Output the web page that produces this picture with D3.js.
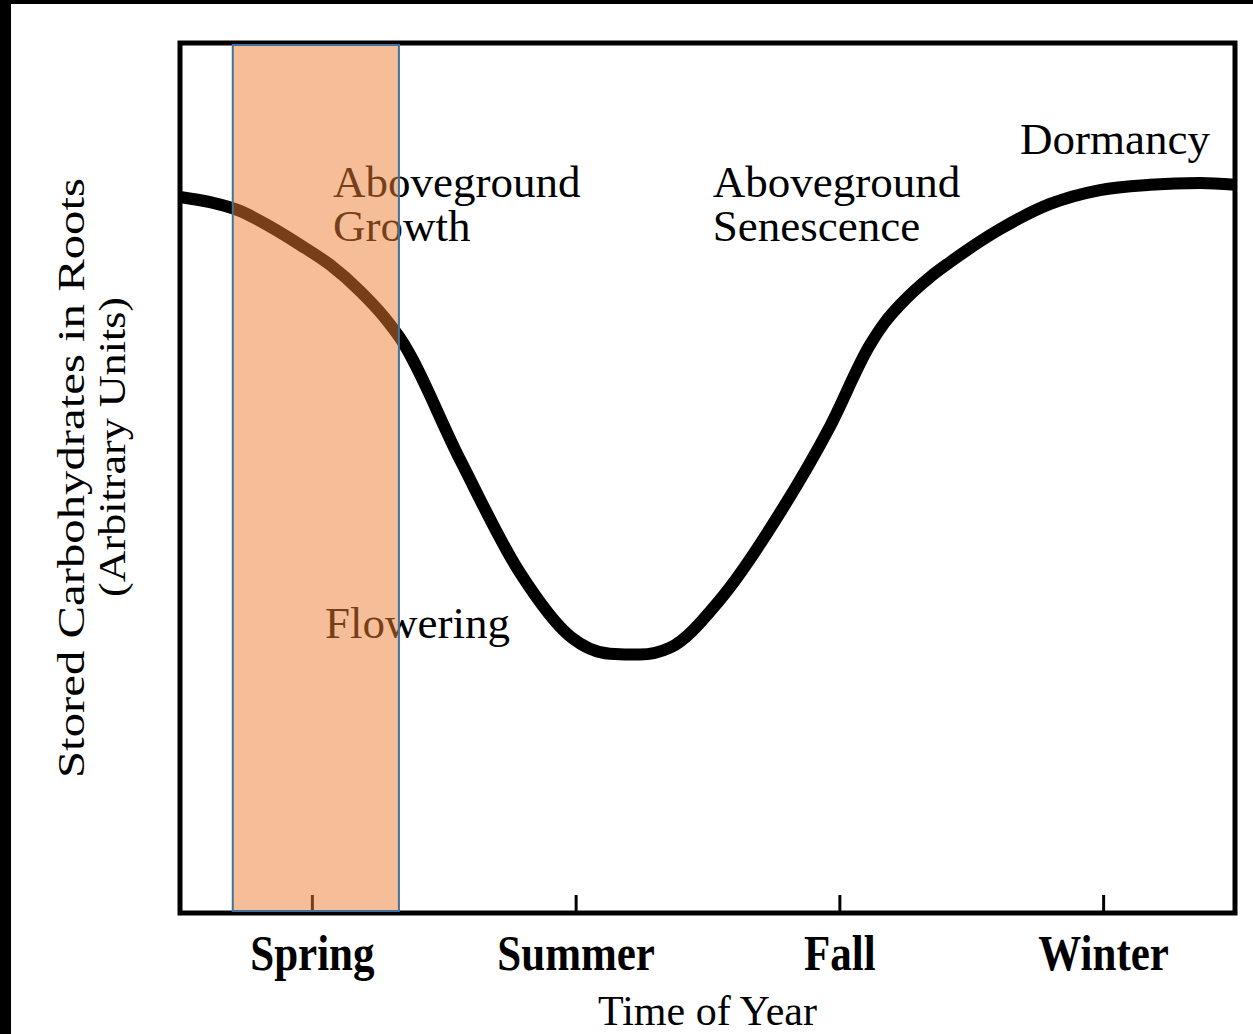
<!DOCTYPE html>
<html>
<head>
<meta charset="utf-8">
<script src="https://cdn.jsdelivr.net/npm/d3@7"></script>
<style>
  html, body { margin: 0; padding: 0; background: #fff; }
  svg { display: block; }
  text { font-family: "Liberation Serif", "Times New Roman", serif; }
</style>
</head>
<body>
<script>
// ---- data ----
const seasons = ["Spring", "Summer", "Fall", "Winter"];
const seasonIndex = [0, 1, 2, 3];
// time of year expressed in season units (Spring = 0 ... Winter = 3)
const timeOfYear = [-0.5, -0.386, -0.273, -0.159, -0.045, 0.069, 0.182, 0.277, 0.334, 0.562,
  0.789, 0.979, 1.13, 1.244, 1.358, 1.547, 1.775, 1.964, 2.116, 2.173, 2.23, 2.344, 2.419,
  2.609, 2.799, 2.988, 3.178, 3.367, 3.5];
// stored carbohydrates in roots (arbitrary units, 0-100)
const storedCarbs = [82.3, 81.7, 80.7, 78.9, 76.8, 74.5, 71.5, 68.4, 66.1, 52.1,
  39.1, 31.8, 29.8, 29.7, 30.5, 36.0, 46.0, 55.9, 65.3, 67.9, 69.9, 73.1, 74.8,
  78.6, 81.5, 83.1, 83.7, 83.9, 83.7];
const floweringPeriod = [-0.3, 0.33];
const annotations = [
  { lines: ["Aboveground", "Growth"], t: 0.08, v: 82.3 },
  { lines: ["Aboveground", "Senescence"], t: 1.52, v: 82.3 },
  { lines: ["Dormancy"], t: 2.685, v: 87.2 },
  { lines: ["Flowering"], t: 0.05, v: 31.6 }
];
const xTitle = "Time of Year";
const yTitle = ["Stored Carbohydrates in Roots", "(Arbitrary Units)"];

// ---- layout ----
const W = 1253, H = 1034;
const m = { left: 180, right: 18, top: 43, bottom: 121 };
const pw = W - m.left - m.right, ph = H - m.top - m.bottom;

const svg = d3.select("body").append("svg").attr("width", W).attr("height", H);
svg.append("rect").attr("width", W).attr("height", H).attr("fill", "#fff");
// black scan border
svg.append("rect").attr("x", 0).attr("y", 0).attr("width", W).attr("height", 4).attr("fill", "#000");
svg.append("rect").attr("x", 0).attr("y", 0).attr("width", 11).attr("height", H).attr("fill", "#000");

const x = d3.scaleLinear().domain([-0.5, 3.5]).range([m.left, m.left + pw]);
const y = d3.scaleLinear().domain([0, 100]).range([m.top + ph, m.top]);

// frame
svg.append("rect")
  .attr("x", x(-0.5)).attr("y", y(100))
  .attr("width", x(3.5) - x(-0.5)).attr("height", y(0) - y(100))
  .attr("fill", "none").attr("stroke", "#000").attr("stroke-width", 5);

// x axis (ticks pointing up, season labels)
const xAxis = d3.axisBottom(x).tickValues(seasonIndex).tickSize(-18).tickFormat(i => seasons[i]);
const gx = svg.append("g").attr("transform", `translate(0,${y(0)})`).call(xAxis);
gx.select(".domain").remove();
gx.selectAll(".tick line").attr("stroke", "#000").attr("stroke-width", 3);
gx.selectAll(".tick text")
  .attr("y", 0).attr("dy", 0)
  .attr("transform", "translate(0,57) scale(1,1.2)")
  .attr("fill", "#000")
  .attr("font-family", "'Liberation Serif', 'Times New Roman', serif")
  .attr("font-size", 43).attr("font-weight", "bold");

// x title
svg.append("text")
  .attr("x", (x(-0.5) + x(3.5)) / 2).attr("y", 1025)
  .attr("text-anchor", "middle").attr("font-size", 42)
  .text(xTitle);

// y title (two lines)
svg.append("text")
  .attr("transform", `translate(84,${(y(0) + y(100)) / 2}) rotate(-90)`)
  .attr("text-anchor", "middle").attr("font-size", 38)
  .attr("textLength", 600).attr("lengthAdjust", "spacingAndGlyphs")
  .text(yTitle[0]);
svg.append("text")
  .attr("transform", `translate(125,${(y(0) + y(100)) / 2 - 31}) rotate(-90)`)
  .attr("text-anchor", "middle").attr("font-size", 38)
  .attr("textLength", 300).attr("lengthAdjust", "spacingAndGlyphs")
  .text(yTitle[1]);

// curve
const pts = timeOfYear.map((t, i) => [t, storedCarbs[i]]);
const line = d3.line().x(d => x(d[0])).y(d => y(d[1])).curve(d3.curveMonotoneX);
svg.append("path").datum(pts)
  .attr("d", line).attr("fill", "none")
  .attr("stroke", "#000").attr("stroke-width", 12)
  .attr("stroke-linecap", "butt").attr("stroke-linejoin", "round");

// annotations
annotations.forEach(a => {
  const t = svg.append("text").attr("x", x(a.t)).attr("y", y(a.v)).attr("font-size", 45).attr("fill", "#000");
  a.lines.forEach((s, i) => {
    t.append("tspan").attr("x", x(a.t)).attr("dy", i === 0 ? 0 : 44).text(s);
  });
});

// flowering overlay (semi-transparent, on top)
svg.append("rect")
  .attr("x", x(floweringPeriod[0])).attr("y", y(100) + 2)
  .attr("width", x(floweringPeriod[1]) - x(floweringPeriod[0]))
  .attr("height", y(0) - y(100) - 4)
  .attr("fill", "rgb(237,125,49)").attr("fill-opacity", 0.5)
  .attr("stroke", "#41719C").attr("stroke-width", 2);
</script>
</body>
</html>
